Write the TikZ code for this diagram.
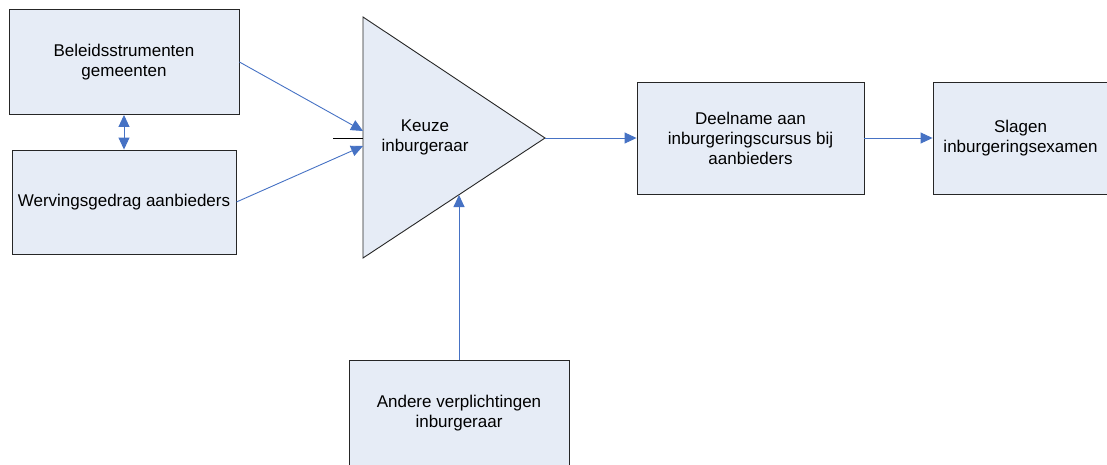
\documentclass[tikz,border=0pt]{standalone}
\usepackage{fontspec}
\setmainfont{Liberation Sans}
\usetikzlibrary{arrows.meta}
\definecolor{boxfill}{RGB}{230,236,246}
\definecolor{linkblue}{RGB}{70,114,196}
\tikzset{
  blok/.style={draw=black!85, fill=boxfill, line width=0.9pt, align=center,
    inner sep=0pt, font=\fontsize{17}{20}\selectfont},
  pijl/.style={draw=linkblue, line width=0.9pt, -{Triangle[length=12pt,width=11pt]}},
}
\begin{document}
\begin{tikzpicture}[x=1pt, y=-1pt]
        \useasboundingbox (0,0) rectangle (1107,464);
        % boxes
        \node[blok, minimum width=230pt, minimum height=105pt] (beleid) at (124,62) {Beleidsstrumenten\\gemeenten};
        \node[blok, minimum width=224pt, minimum height=104pt] (werving) at (124,202) {Wervingsgedrag aanbieders};
        \node[blok, minimum width=227pt, minimum height=112pt] (deelname) at (750.5,138) {Deelname aan\\inburgeringscursus bij\\aanbieders};
        \node[blok, minimum width=175pt, minimum height=112pt] (slagen) at (1020.5,138) {Slagen\\inburgeringsexamen};
        \node[blok, minimum width=220pt, minimum height=106pt] (andere) at (459,413) {Andere verplichtingen\\inburgeraar};
        %
        % triangle
        \coordinate (tritop) at (363,17);
        \coordinate (tribot) at (363,258);
        \coordinate (tritip) at (545,138);
        \draw[fill=boxfill, draw=black!85, line width=0.9pt] (tritop) -- (tritip) -- (tribot) -- cycle;
        \node[align=center, font=\fontsize{17}{20}\selectfont] (keuze) at (425,137) {Keuze\\inburgeraar};
        \coordinate (in1) at (363,131);
        \coordinate (in2) at (363,146);
        \coordinate (in3) at (459,195);
        \coordinate (stubl) at (333,138);
        \coordinate (stubr) at (363,138);
        %
        % connectors
        \draw[black, line width=0.9pt] (stubl) -- (stubr);
        \draw[draw=linkblue, line width=0.9pt, {Triangle[length=12pt,width=11pt]}-{Triangle[length=12pt,width=11pt]}] (beleid.south) -- (werving.north);
        \draw[pijl] (beleid.east) -- (in1);
        \draw[pijl] (werving.east) -- (in2);
        \draw[pijl] (andere.north) -- (in3);
        \draw[pijl] (tritip) -- (deelname.west);
        \draw[pijl] (deelname.east) -- (slagen.west);
\end{tikzpicture}
\end{document}
